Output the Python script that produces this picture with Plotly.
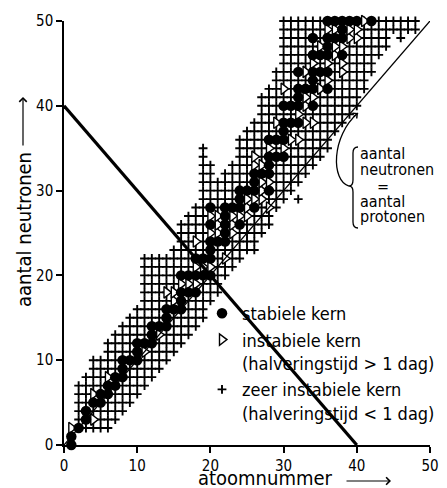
import plotly.graph_objects as go

FONT = "DejaVu Sans Condensed, Liberation Sans, Arial, sans-serif"

# ---------------- data ----------------
# stable nuclei: atomic number Z and neutron number N
stable_Z = [1, 1, 2, 3, 3, 4, 5, 5, 6, 6, 7, 7, 8, 8, 8, 9, 10, 10, 10, 11,
            12, 12, 12, 13, 14, 14, 14, 15, 16, 16, 16, 16, 17, 17, 18, 18, 18,
            19, 19, 20, 20, 20, 20, 20, 20, 21, 22, 22, 22, 22, 22, 23,
            24, 24, 24, 24, 25, 26, 26, 26, 26, 27, 28, 28, 28, 28, 28,
            29, 29, 30, 30, 30, 30, 30, 31, 31, 32, 32, 32, 32, 32, 33,
            34, 34, 34, 34, 34, 34, 35, 35, 36, 36, 36, 36, 36, 36,
            37, 37, 38, 38, 38, 38, 39, 40, 42]
stable_N = [0, 1, 2, 3, 4, 5, 5, 6, 6, 7, 7, 8, 8, 9, 10, 10, 10, 11, 12, 12,
            12, 13, 14, 14, 14, 15, 16, 16, 16, 17, 18, 20, 18, 20, 18, 20, 22,
            20, 22, 20, 22, 23, 24, 26, 28, 24, 24, 25, 26, 27, 28, 28,
            26, 28, 29, 30, 30, 28, 30, 31, 32, 32, 30, 32, 33, 34, 36,
            34, 36, 34, 36, 37, 38, 40, 38, 40, 38, 40, 41, 42, 44, 42,
            40, 42, 43, 44, 46, 48, 44, 46, 42, 44, 46, 47, 48, 50,
            48, 50, 46, 48, 49, 50, 50, 50, 50]

# unstable nuclei, half-life > 1 day
unstable_Z = [1, 4, 4, 6, 11, 13, 14, 15, 15, 16, 17, 18, 18, 18, 19,
              20, 20, 20, 21, 21, 21, 22, 23, 23, 23, 24, 25, 25, 25,
              26, 26, 26, 27, 27, 27, 27, 28, 28, 28, 29, 30, 30, 31,
              32, 32, 33, 33, 33, 33, 34, 34, 34, 35, 35, 36, 36, 36,
              37, 37, 37, 38, 38, 38, 39, 39, 40, 40, 41]
unstable_N = [2, 3, 6, 8, 11, 13, 18, 17, 18, 19, 19, 19, 21, 24, 21,
              21, 25, 27, 25, 26, 27, 22, 25, 26, 27, 27, 27, 28, 29,
              29, 33, 34, 29, 30, 31, 33, 28, 31, 35, 38, 35, 42, 36,
              36, 39, 38, 40, 41, 44, 38, 41, 45, 42, 47, 43, 45, 49,
              46, 47, 49, 44, 45, 47, 48, 49, 48, 49, 50]

# very unstable nuclei (half-life < 1 day): for each Z the band of N values
band_Z    = list(range(2, 49))
band_Nmin = [2, 2, 2, 2, 2, 3, 4, 5, 6, 7, 8, 9, 10, 11, 12, 13, 14, 15, 17,
             18, 20, 21, 22, 23, 23, 25, 26, 28, 29, 30, 31, 32, 33, 34, 35,
             37, 38, 39, 40, 42, 44, 46, 47, 49, 49, 49, 49]
band_Nmax = [7, 8, 10, 10, 12, 13, 14, 15, 16, 22, 22, 22, 22, 23, 26, 27, 28,
             35, 33, 31, 32, 33, 36, 37, 38, 41, 42, 44, 50, 50, 50, 50, 50, 50,
             50, 50, 50, 50, 50, 50, 50, 50, 50, 50, 50, 50, 50]
extra_Z = [32, 46]
extra_N = [29, 48]

# reference lines
line_sum_Z = [0, 40]      # Z + N = 40
line_sum_N = [40, 0]
line_eq_Z = [0, 50]       # N = Z
line_eq_N = [0, 50]

x_ticks = [0, 10, 20, 30, 40, 50]
y_ticks = [0, 10, 20, 30, 40, 50]

labels = {
    "stable": "stabiele kern",
    "unstable": "instabiele kern<br>(halveringstijd > 1 dag)",
    "very": "zeer instabiele kern<br>(halveringstijd < 1 dag)",
}

# ---------------- build ----------------
plus_Z, plus_N = [], []
for z, lo, hi in zip(band_Z, band_Nmin, band_Nmax):
    for n in range(lo, hi + 1):
        plus_Z.append(z)
        plus_N.append(n)
plus_Z += extra_Z
plus_N += extra_N

fig = go.Figure()
fig.add_trace(go.Scatter(
    x=plus_Z, y=plus_N, mode="markers", name=labels["very"], legendrank=3,
    marker=dict(symbol="cross-thin", size=6.3, color="black",
                line=dict(color="black", width=1.9)),
    cliponaxis=False, hoverinfo="skip"))
fig.add_trace(go.Scatter(
    x=unstable_Z, y=unstable_N, mode="markers", name=labels["unstable"], legendrank=2,
    marker=dict(symbol="triangle-right", size=10, color="white",
                line=dict(color="black", width=1.4)),
    cliponaxis=False))
fig.add_trace(go.Scatter(
    x=stable_Z, y=stable_N, mode="markers", name=labels["stable"], legendrank=1,
    marker=dict(symbol="circle", size=10.5, color="black", line=dict(width=0)),
    cliponaxis=False))
fig.add_trace(go.Scatter(
    x=line_eq_Z, y=line_eq_N, mode="lines", showlegend=False,
    line=dict(color="black", width=1.3), cliponaxis=False))
fig.add_trace(go.Scatter(
    x=line_sum_Z, y=line_sum_N, mode="lines", showlegend=False,
    line=dict(color="black", width=3.2), cliponaxis=False))

# ---------------- layout helpers (window pixel -> paper) ----------------
FW, FH = 447, 488
L, T, W, H = 64, 21, 366, 424          # plot area in pixels


def px(x):
    return (x - L) / W


def py(y):
    return (T + H - y) / H


def pt(x, y):
    return f"{px(x):.4f},{py(y):.4f}"


brace = ("M " + pt(358, 147) + " Q " + pt(353, 147) + " " + pt(353, 153) +
         " L " + pt(353, 180) + " Q " + pt(353, 186) + " " + pt(349, 186) +
         " Q " + pt(353, 186) + " " + pt(353, 192) + " L " + pt(353, 222) +
         " Q " + pt(353, 228) + " " + pt(358, 228))
curve = ("M " + pt(349, 186) + " C " + pt(331, 181) + " " + pt(331, 136) +
         " " + pt(358, 113))

shapes = [
    dict(type="path", path=brace, xref="paper", yref="paper",
         line=dict(color="black", width=1.3)),
    dict(type="path", path=curve, xref="paper", yref="paper",
         line=dict(color="black", width=1.3)),
]

annotations = []
note_lines = [("aantal", 359, 153, "left"), ("neutronen", 359, 170, "left"),
              ("=", 383, 186, "center"), ("aantal", 359, 201, "left"),
              ("protonen", 359, 216, "left")]
for txt, x, y, anc in note_lines:
    annotations.append(dict(text=txt, x=px(x), y=py(y), xref="paper", yref="paper",
                            xanchor=anc, yanchor="middle", showarrow=False,
                            borderpad=0,
                            font=dict(size=16, color="black", family=FONT)))

# arrowhead of the curved arrow
annotations.append(dict(text="", x=px(358), y=py(113), xref="paper", yref="paper",
                        ax=-6, ay=5, showarrow=True, arrowhead=4, arrowsize=1.1,
                        arrowwidth=1.2, arrowcolor="black", standoff=0))

# axis titles with arrows
annotations.append(dict(text="atoomnummer", x=px(265), y=py(478), xref="paper",
                        yref="paper", xanchor="center", yanchor="middle",
                        showarrow=False, borderpad=0,
                        font=dict(size=20, color="black", family=FONT)))
annotations.append(dict(text="", x=px(391), y=py(481), xref="paper", yref="paper",
                        ax=-46, ay=0, showarrow=True, arrowhead=4, arrowsize=1.2,
                        arrowwidth=1.2, arrowcolor="black", standoff=0))
annotations.append(dict(text="aantal neutronen", x=px(24), y=py(230), xref="paper",
                        yref="paper", xanchor="center", yanchor="middle",
                        textangle=-90, showarrow=False, borderpad=0,
                        font=dict(size=20, color="black", family=FONT)))
annotations.append(dict(text="", x=px(23), y=py(97), xref="paper", yref="paper",
                        ax=0, ay=50, showarrow=True, arrowhead=4, arrowsize=1.2,
                        arrowwidth=1.2, arrowcolor="black", standoff=0))

axis_common = dict(showgrid=False, zeroline=False, showline=True, linecolor="black",
                   linewidth=1.5, ticks="outside", ticklen=6, tickwidth=1.5,
                   tickcolor="black", automargin=False,
                   tickfont=dict(size=15, color="black", family=FONT))

fig.update_layout(
    width=FW, height=FH, autosize=False,
    margin=dict(l=L, r=FW - L - W, t=T, b=FH - T - H, pad=0, autoexpand=False),
    paper_bgcolor="white", plot_bgcolor="white",
    xaxis=dict(range=[0, 50], tickvals=x_ticks, **axis_common),
    yaxis=dict(range=[0, 50], tickvals=y_ticks, **axis_common),
    showlegend=True,
    legend=dict(x=px(202), y=py(295), xanchor="left", yanchor="top",
                bgcolor="rgba(0,0,0,0)", borderwidth=0, valign="top",
                font=dict(size=18, color="black", family=FONT),
                tracegroupgap=0),
    shapes=shapes, annotations=annotations,
    font=dict(family=FONT, color="black"),
)

# remove the default 8 px page margin so the figure fills the window exactly
fig.write_html("out.html", config={"displayModeBar": False},
               post_script="document.body.style.margin='0';"
                           "document.body.style.overflow='hidden';")
